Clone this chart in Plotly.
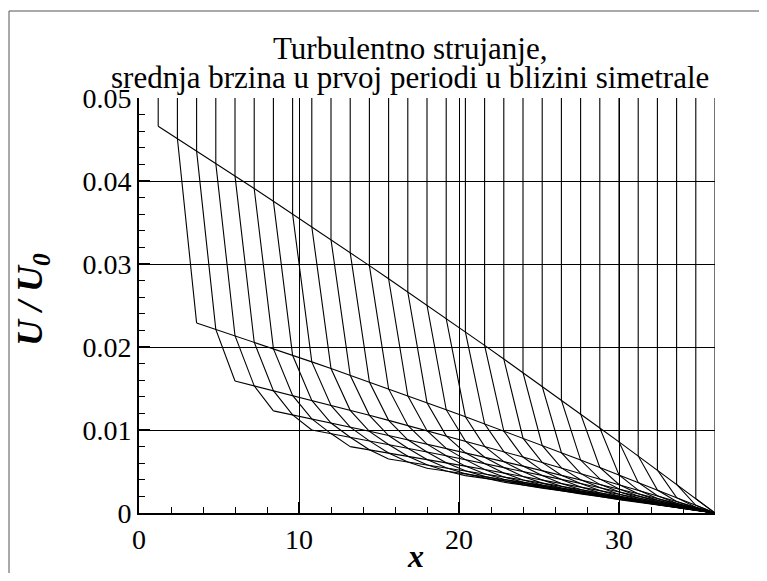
import plotly.graph_objects as go

# x positions of the mesh columns
X = [1.2, 2.4, 3.6, 4.8, 6.0, 7.2, 8.4, 9.6, 10.8, 12.0, 13.2, 14.4, 15.6, 16.8, 18.0,
     19.2, 20.4, 21.6, 22.8, 24.0, 25.2, 26.4, 27.6, 28.8, 30.0, 31.2, 32.4, 33.6, 34.8, 36.0]

U_TOP = 0.05

# U/U0 along each row; row j starts at X[2j] and ends at x = 36
ROW_0 = [0.0466, 0.04512, 0.04363, 0.04212, 0.04062, 0.03910, 0.03757, 0.03603, 0.03449, 0.03294,
         0.03137, 0.02980, 0.02822, 0.02663, 0.02503, 0.02343, 0.02181, 0.02019, 0.01855, 0.01691,
         0.01526, 0.01360, 0.01193, 0.01025, 0.00857, 0.00687, 0.00517, 0.00345, 0.00173, 0.0]
ROW_1 = [0.0229, 0.02213, 0.02136, 0.02058, 0.01980, 0.01900, 0.01821, 0.01740, 0.01659, 0.01578,
         0.01495, 0.01412, 0.01329, 0.01245, 0.01160, 0.01074, 0.00988, 0.00902, 0.00814, 0.00726,
         0.00638, 0.00548, 0.00459, 0.00368, 0.00277, 0.00185, 0.00093, 0.0]
ROW_2 = [0.0159, 0.01532, 0.01474, 0.01416, 0.01357, 0.01297, 0.01237, 0.01177, 0.01116, 0.01054,
         0.00992, 0.00930, 0.00866, 0.00803, 0.00739, 0.00674, 0.00609, 0.00543, 0.00477, 0.00411,
         0.00343, 0.00276, 0.00208, 0.00139, 0.00070, 0.0]
ROW_3 = [0.0123, 0.01182, 0.01133, 0.01084, 0.01034, 0.00984, 0.00933, 0.00882, 0.00830, 0.00778,
         0.00725, 0.00672, 0.00619, 0.00565, 0.00511, 0.00456, 0.00400, 0.00345, 0.00288, 0.00232,
         0.00174, 0.00117, 0.00059, 0.0]
ROW_4 = [0.0100, 0.00957, 0.00913, 0.00869, 0.00825, 0.00780, 0.00735, 0.00689, 0.00643, 0.00596,
         0.00549, 0.00501, 0.00453, 0.00405, 0.00356, 0.00306, 0.00256, 0.00206, 0.00155, 0.00104,
         0.00052, 0.0]
ROW_5 = [0.0080, 0.00762, 0.00723, 0.00684, 0.00645, 0.00605, 0.00565, 0.00524, 0.00483, 0.00441,
         0.00399, 0.00356, 0.00313, 0.00270, 0.00226, 0.00182, 0.00137, 0.00092, 0.00046, 0.0]
ROW_6 = [0.0065, 0.00615, 0.00580, 0.00545, 0.00509, 0.00472, 0.00435, 0.00398, 0.00360, 0.00322,
         0.00283, 0.00244, 0.00205, 0.00165, 0.00124, 0.00083, 0.00042, 0.0]
ROW_7 = [0.0054, 0.00507, 0.00474, 0.00441, 0.00407, 0.00372, 0.00337, 0.00301, 0.00265, 0.00229,
         0.00192, 0.00155, 0.00117, 0.00078, 0.00039, 0.0]
ROW_8 = [0.0045, 0.00419, 0.00387, 0.00354, 0.00321, 0.00288, 0.00253, 0.00219, 0.00184, 0.00148,
         0.00112, 0.00075, 0.00038, 0.0]
ROW_9 = [0.0037, 0.00339, 0.00308, 0.00276, 0.00244, 0.00211, 0.00177, 0.00143, 0.00108, 0.00073,
         0.00037, 0.0]
ROW_10 = [0.0030, 0.00270, 0.00239, 0.00207, 0.00174, 0.00141, 0.00107, 0.00072, 0.00036, 0.0]
ROW_11 = [0.0023, 0.00200, 0.00169, 0.00137, 0.00104, 0.00070, 0.00036, 0.0]
ROW_12 = [0.0016, 0.00131, 0.00100, 0.00068, 0.00035, 0.0]
ROW_13 = [0.0010, 0.00069, 0.00034, 0.0]
ROW_14 = [0.0003, 0.0]

ROWS = [ROW_0, ROW_1, ROW_2, ROW_3, ROW_4, ROW_5, ROW_6, ROW_7,
        ROW_8, ROW_9, ROW_10, ROW_11, ROW_12, ROW_13, ROW_14]

TITLE_1 = "Turbulentno strujanje,"
TITLE_2 = "srednja brzina u prvoj periodi u blizini simetrale"
X_TITLE = "<b><i>x</i></b>"
Y_TITLE = "<b><i>U / U<sub>0</sub></i></b>"

FONT = "Liberation Serif"
N = len(X)

# i-lines (rows)
rx, ry = [], []
for j, r in enumerate(ROWS):
    rx += X[2 * j:2 * j + len(r)] + [None]
    ry += r + [None]

# j-lines (vertical above row 0, then steep lines through the rows)
cx, cy = [], []
for c in range(1, N + 1):
    cx.append(X[c - 1]); cy.append(U_TOP)
    for j in range(0, min(c - 1, N - c) + 1):
        cx.append(X[c - 1 + j]); cy.append(ROWS[j][c - j - 1])
    cx.append(None); cy.append(None)

fig = go.Figure()
line = dict(color="black", width=1.1)
fig.add_trace(go.Scatter(x=rx, y=ry, mode="lines", line=line, hoverinfo="skip"))
fig.add_trace(go.Scatter(x=cx, y=cy, mode="lines", line=line, hoverinfo="skip"))

axis_common = dict(
    ticks="inside", ticklen=11, tickwidth=2, tickcolor="black",
    showline=True, linewidth=2, linecolor="black",
    showgrid=True, gridcolor="black", gridwidth=1, zeroline=False,
    tickfont=dict(family=FONT, size=28, color="black"),
)
fig.update_xaxes(range=[0, 36], tickvals=[0, 10, 20, 30],
                 minor=dict(ticks="inside", tick0=0, dtick=2, ticklen=6, tickwidth=1,
                            tickcolor="black", showgrid=False),
                 **axis_common)
fig.update_yaxes(range=[0, 0.05], tick0=0, dtick=0.01,
                 minor=dict(ticks="inside", tick0=0, dtick=0.002, ticklen=6, tickwidth=1,
                            tickcolor="black", showgrid=False),
                 **axis_common)

# page offset of the plotly div (body margin); figure sized to fit the window
OFF = 8
W, H = 767 - OFF, 581 - 2 * OFF
L, T = 131, 90
PW, PH = 576, 415
R, B = W - L - PW, H - T - PH


def px(xp):
    return (xp - OFF - L) / PW


def py(yp):
    return (H - B - (yp - OFF)) / PH


annotations = [
    dict(text=TITLE_1, x=px(410), y=py(48), xref="paper", yref="paper", showarrow=False,
         xanchor="center", yanchor="middle", font=dict(family=FONT, size=31, color="black")),
    dict(text=TITLE_2, x=px(410), y=py(77), xref="paper", yref="paper", showarrow=False,
         xanchor="center", yanchor="middle", font=dict(family=FONT, size=31, color="black")),
    dict(text=X_TITLE, x=px(415), y=py(556), xref="paper", yref="paper", showarrow=False,
         xanchor="center", yanchor="middle", font=dict(family=FONT, size=32, color="black")),
    dict(text=Y_TITLE, x=px(32), y=py(300), xref="paper", yref="paper", showarrow=False,
         textangle=-90, xanchor="center", yanchor="middle",
         font=dict(family=FONT, size=36, color="black")),
]

frame = dict(color="#555555", width=1)
shapes = [
    dict(type="line", xref="paper", yref="paper", x0=px(9), x1=px(767), y0=py(11), y1=py(11),
         line=frame, layer="below"),
    dict(type="line", xref="paper", yref="paper", x0=px(9), x1=px(9), y0=py(11), y1=py(581),
         line=frame, layer="below"),
]

fig.update_layout(width=W, height=H, margin=dict(l=L, r=R, t=T, b=B, pad=0),
                  plot_bgcolor="white", paper_bgcolor="white", showlegend=False,
                  annotations=annotations, shapes=shapes)

fig.write_html("out.html")
